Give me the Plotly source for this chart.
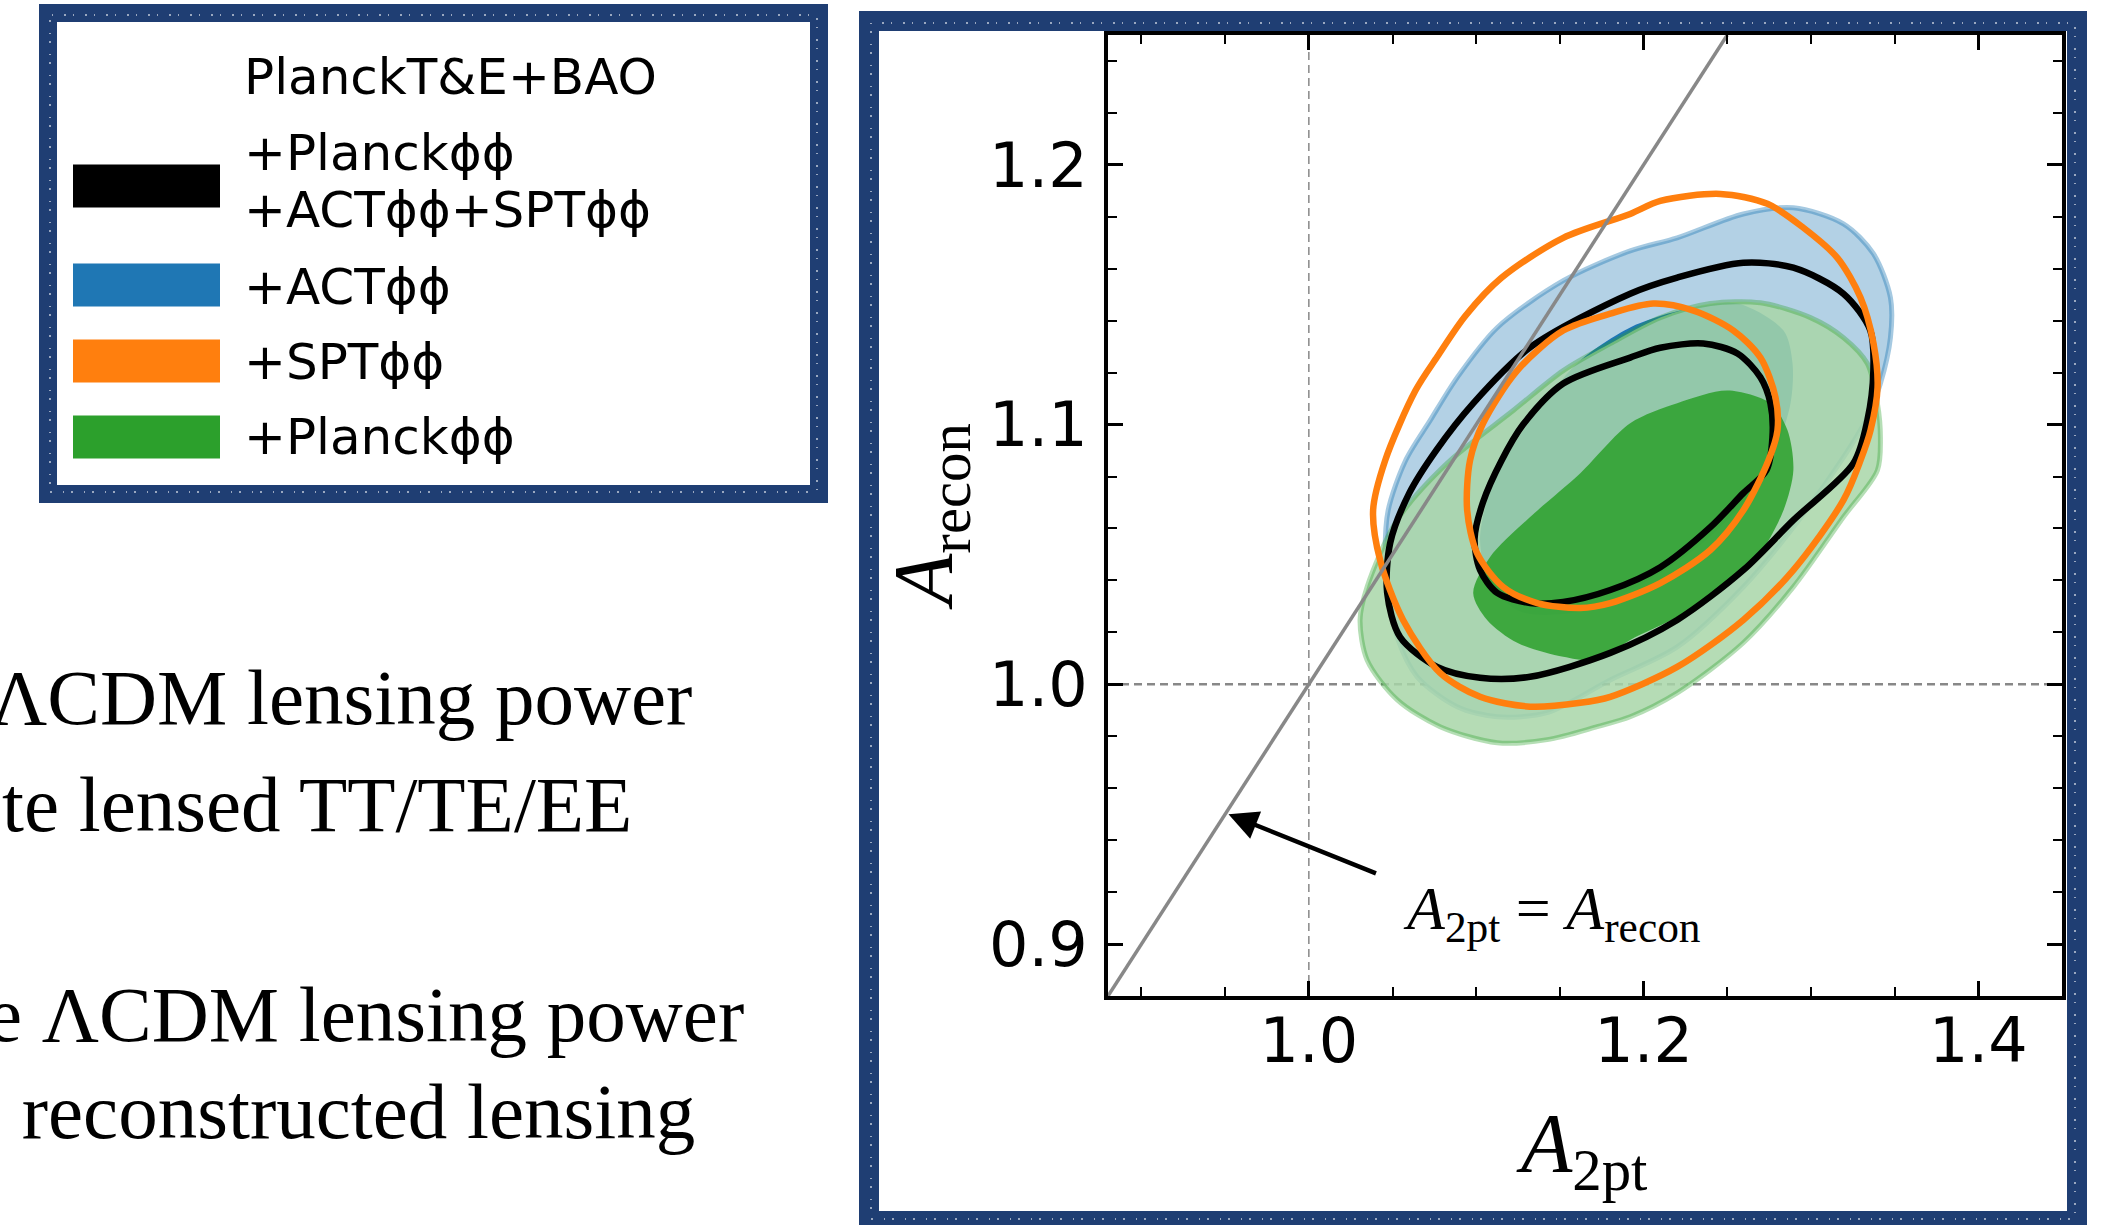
import plotly.graph_objects as go

W, H = 2116, 1225

# ---- axes ----
x_range = [0.88, 1.45]
y_range = [0.88, 1.25]
x_ticks = [1.0, 1.2, 1.4]
y_ticks = [0.9, 1.0, 1.1, 1.2]

# ---- contour boundaries: (A_2pt, A_recon) ----
act_95_x = [1.2895, 1.3194, 1.3373, 1.3475, 1.3475, 1.3415, 1.3337, 1.3194, 1.2895, 1.2596, 1.2201, 1.1801, 1.1424, 1.1125,
            1.0886, 1.0647, 1.0527, 1.0474, 1.0456, 1.0474, 1.0576, 1.0725, 1.0886, 1.1125, 1.1520, 1.1920, 1.2201, 1.2596]
act_95_y = [1.1835, 1.1773, 1.1658, 1.1489, 1.1335, 1.1158, 1.1028, 1.0874, 1.0605, 1.0375, 1.0144, 1.0017, 0.9891, 0.9875,
            0.9914, 1.0029, 1.0182, 1.0352, 1.0505, 1.0670, 1.0859, 1.1016, 1.1181, 1.1373, 1.1554, 1.1669, 1.1719, 1.1811]

act_68_x = [1.2561, 1.2836, 1.2890, 1.2878, 1.2788, 1.2608, 1.2339, 1.1980, 1.1622, 1.1263, 1.1083, 1.1023, 1.1083, 1.1203,
            1.1412, 1.1622, 1.1920, 1.2219]
act_68_y = [1.1466, 1.1362, 1.1235, 1.1082, 1.0901, 1.0709, 1.0536, 1.0382, 1.0280, 1.0280, 1.0390, 1.0555, 1.0747, 1.0901,
            1.1093, 1.1247, 1.1374, 1.1439]

planck_95_x = [1.2698, 1.2997, 1.3194, 1.3337, 1.3397, 1.3415, 1.3397, 1.3194, 1.2895, 1.2596, 1.2201, 1.1920, 1.1723, 1.1424,
               1.1125, 1.0784, 1.0527, 1.0348, 1.0306, 1.0348, 1.0527, 1.0826, 1.1223, 1.1520, 1.1801, 1.2100, 1.2399]
planck_95_y = [1.1469, 1.1412, 1.1335, 1.1235, 1.1082, 1.0951, 1.0824, 1.0644, 1.0375, 1.0160, 0.9967, 0.9875, 0.9837, 0.9787,
               0.9775, 0.9837, 0.9941, 1.0094, 1.0248, 1.0375, 1.0632, 1.0851, 1.1055, 1.1208, 1.1312, 1.1412, 1.1466]

planck_68_x = [1.2502, 1.2758, 1.2860, 1.2895, 1.2836, 1.2698, 1.2501, 1.2201, 1.1920, 1.1723, 1.1520, 1.1245, 1.1065, 1.0982,
               1.1083, 1.1322, 1.1622, 1.1920, 1.2201]
planck_68_y = [1.1131, 1.1082, 1.0978, 1.0824, 1.0670, 1.0505, 1.0375, 1.0259, 1.0171, 1.0094, 1.0106, 1.0160, 1.0248, 1.0352,
               1.0490, 1.0644, 1.0813, 1.1005, 1.1082]

combined_95_x = [1.2596, 1.2895, 1.3194, 1.3355, 1.3373, 1.3337, 1.3254, 1.2895, 1.2596, 1.2201, 1.1801, 1.1322, 1.1023, 1.0766,
                 1.0545, 1.0468, 1.0486, 1.0600, 1.0760, 1.0982, 1.1322, 1.1920, 1.2201]
combined_95_y = [1.1623, 1.1604, 1.1504, 1.1362, 1.1208, 1.1016, 1.0851, 1.0632, 1.0440, 1.0248, 1.0121, 1.0029, 1.0025, 1.0067,
                 1.0182, 1.0352, 1.0544, 1.0736, 1.0900, 1.1082, 1.1297, 1.1504, 1.1566]

combined_68_x = [1.2357, 1.2561, 1.2698, 1.2758, 1.2770, 1.2734, 1.2596, 1.2399, 1.2100, 1.1801, 1.1520, 1.1322, 1.1125, 1.1023,
                 1.0990, 1.1040, 1.1150, 1.1280, 1.1520, 1.1920, 1.2100]
combined_68_y = [1.1312, 1.1274, 1.1182, 1.1082, 1.0951, 1.0824, 1.0736, 1.0605, 1.0451, 1.0363, 1.0317, 1.0313, 1.0352, 1.0440,
                 1.0560, 1.0700, 1.0860, 1.1000, 1.1158, 1.1258, 1.1296]

spt_95_x = [1.2459, 1.2740, 1.2955, 1.3158, 1.3296, 1.3374, 1.3398, 1.3356, 1.3296, 1.3194, 1.2895, 1.2596, 1.2201, 1.1801,
            1.1622, 1.1322, 1.1023, 1.0784, 1.0563, 1.0426, 1.0384, 1.0456, 1.0637, 1.0768, 1.0936, 1.1151, 1.1520, 1.1920, 1.2100]
spt_95_y = [1.1888, 1.1850, 1.1758, 1.1642, 1.1489, 1.1312, 1.1143, 1.0978, 1.0862, 1.0709, 1.0440, 1.0248, 1.0067, 0.9952,
            0.9929, 0.9914, 0.9952, 1.0044, 1.0248, 1.0478, 1.0670, 1.0862, 1.1131, 1.1262, 1.1419, 1.1565, 1.1719, 1.1811, 1.1861]

spt_68_x = [1.2298, 1.2537, 1.2698, 1.2788, 1.2800, 1.2746, 1.2596, 1.2399, 1.2100, 1.1801, 1.1622, 1.1365, 1.1161, 1.1005,
            1.0946, 1.0963, 1.1041, 1.1245, 1.1520, 1.1801, 1.2058]
spt_68_y = [1.1439, 1.1362, 1.1258, 1.1105, 1.0978, 1.0862, 1.0670, 1.0517, 1.0390, 1.0313, 1.0294, 1.0313, 1.0375, 1.0505,
            1.0670, 1.0862, 1.1005, 1.1208, 1.1362, 1.1427, 1.1466]

# one-to-one line and its label
diag_x = [0.88, 1.25]
diag_y = [0.88, 1.25]
arrow_head = (0.952, 0.950)
arrow_tail = (1.041, 0.927)
diag_label_pos = (1.145, 0.912)

# legend entries
legend_title = "PlanckT&E+BAO"
legend_labels = [["+Planckϕϕ", "+ACTϕϕ+SPTϕϕ"], ["+ACTϕϕ"], ["+SPTϕϕ"], ["+Planckϕϕ"]]
legend_colors = ["#000000", "#1f77b4", "#ff7f0e", "#2ca02c"]

# slide text lines beside the figure
slide_lines = ["ΛCDM lensing power", "te lensed TT/TE/EE", "e ΛCDM lensing power", " reconstructed lensing"]

SMOOTH = 0.85


def closed(xs, ys):
    return list(xs) + [xs[0]], list(ys) + [ys[0]]


fig = go.Figure()


def add_region(xs, ys, fill, line_color=None, line_width=0):
    cx, cy = closed(xs, ys)
    fig.add_trace(go.Scatter(
        x=cx, y=cy, mode="lines", fill="toself", fillcolor=fill,
        line=dict(color=line_color or "rgba(0,0,0,0)", width=line_width, shape="spline", smoothing=SMOOTH),
        hoverinfo="skip", showlegend=False))


def add_outline(xs, ys, color, width):
    cx, cy = closed(xs, ys)
    fig.add_trace(go.Scatter(
        x=cx, y=cy, mode="lines",
        line=dict(color=color, width=width, shape="spline", smoothing=SMOOTH),
        hoverinfo="skip", showlegend=False))


# reference lines
fig.add_trace(go.Scatter(x=[1.0, 1.0], y=y_range, mode="lines",
                         line=dict(color="#888888", width=1.5, dash="8px,5px"),
                         hoverinfo="skip", showlegend=False))
fig.add_trace(go.Scatter(x=x_range, y=[1.0, 1.0], mode="lines",
                         line=dict(color="#888888", width=2.5, dash="8px,5px"),
                         hoverinfo="skip", showlegend=False))

# filled constraints
add_region(act_95_x, act_95_y, "rgb(179,209,229)", "rgba(31,119,180,0.40)", 5)
add_region(act_68_x, act_68_y, "rgb(31,119,180)")
add_region(planck_95_x, planck_95_y, "rgba(168,214,168,0.85)", "rgba(44,160,44,0.35)", 5)
add_region(planck_68_x, planck_68_y, "rgba(44,160,44,0.85)")

# unfilled constraints
add_outline(combined_95_x, combined_95_y, "#000000", 6.5)
add_outline(combined_68_x, combined_68_y, "#000000", 6.5)
add_outline(spt_95_x, spt_95_y, "#ff7f0e", 6.5)
add_outline(spt_68_x, spt_68_y, "#ff7f0e", 6.5)

# A_2pt = A_recon
fig.add_trace(go.Scatter(x=diag_x, y=diag_y, mode="lines",
                         line=dict(color="#888888", width=3.5),
                         hoverinfo="skip", showlegend=False))

serif = "Liberation Serif, DejaVu Serif, serif"
sans = "DejaVu Sans, sans-serif"

annotations = [
    dict(x=arrow_head[0], y=arrow_head[1], ax=arrow_tail[0], ay=arrow_tail[1],
         xref="x", yref="y", axref="x", ayref="y", text="", showarrow=True,
         arrowhead=2, arrowsize=1.3, arrowwidth=4.5, arrowcolor="#000000", standoff=0),
    dict(x=diag_label_pos[0], y=diag_label_pos[1], xref="x", yref="y",
         text="<i>A</i><sub>2pt</sub> = <i>A</i><sub>recon</sub>", showarrow=False,
         font=dict(family=serif, size=62, color="#000000"), xanchor="center", yanchor="middle"),
    # axis titles
    dict(x=1581 / W, y=1 - 1150 / H, xref="paper", yref="paper",
         text="<i>A</i><sub>2pt</sub>", showarrow=False,
         font=dict(family=serif, size=84, color="#000000"), xanchor="center", yanchor="middle"),
    dict(x=930 / W, y=1 - 517 / H, xref="paper", yref="paper", textangle=-90,
         text="<i>A</i><sub>recon</sub>", showarrow=False,
         font=dict(family=serif, size=84, color="#000000"), xanchor="center", yanchor="middle"),
    # legend title
    dict(x=242 / W, y=1 - 77 / H, xref="paper", yref="paper", text=legend_title,
         showarrow=False, font=dict(family=sans, size=50, color="#000000"),
         xanchor="left", yanchor="middle"),
]

# legend rows
row_centers = [[153, 210], [287], [362], [437]]
patch_centers = [186, 285, 361, 437]
shapes = []
for labels, ys, pc, col in zip(legend_labels, row_centers, patch_centers, legend_colors):
    for lab, yc in zip(labels, ys):
        annotations.append(dict(x=242 / W, y=1 - yc / H, xref="paper", yref="paper", text=lab,
                                showarrow=False, font=dict(family=sans, size=50, color="#000000"),
                                xanchor="left", yanchor="middle"))
    shapes.append(dict(type="rect", xref="paper", yref="paper",
                       x0=73 / W, x1=220 / W, y0=1 - (pc + 21.5) / H, y1=1 - (pc - 21.5) / H,
                       fillcolor=col, line=dict(width=0), layer="above"))

# slide body text (runs off the left edge of the page)
for txt, x0, base in zip(slide_lines, [-12, 0, -15, 0], [723, 830, 1040, 1137]):
    annotations.append(dict(x=x0 / W, y=1 - (base + 20) / H, xref="paper", yref="paper", text=txt,
                            showarrow=False, font=dict(family=serif, size=79, color="#000000"),
                            xanchor="left", yanchor="bottom"))

# hand-drawn style frames
frame_col = "#1f3e73"
for (x0, y0, x1, y1, lw) in [(48, 13, 819, 494, 18), (869, 21, 2077, 1221, 20)]:
    shapes.append(dict(type="rect", xref="paper", yref="paper",
                       x0=x0 / W, x1=x1 / W, y0=1 - y1 / H, y1=1 - y0 / H,
                       line=dict(color=frame_col, width=lw), fillcolor="rgba(0,0,0,0)", layer="above"))
    shapes.append(dict(type="rect", xref="paper", yref="paper",
                       x0=(x0 + 2) / W, x1=(x1 - 2) / W, y0=1 - (y1 - 2) / H, y1=1 - (y0 + 2) / H,
                       line=dict(color="rgba(255,255,255,0.55)", width=2, dash="2px,11px,1px,7px"),
                       fillcolor="rgba(0,0,0,0)", layer="above"))

axis_common = dict(showgrid=False, zeroline=False, showline=True, linecolor="#000000", linewidth=4,
                   mirror="ticks", ticks="inside", ticklen=15, tickwidth=2.5, tickcolor="#000000",
                   tickfont=dict(family=sans, size=62, color="#000000"))

fig.update_layout(
    width=W, height=H, margin=dict(l=0, r=0, t=0, b=0),
    paper_bgcolor="#ffffff", plot_bgcolor="#ffffff",
    showlegend=False,
    xaxis=dict(range=x_range, domain=[1108 / W, 2062 / W], tickvals=x_ticks,
               ticktext=[f"{v:.1f}" for v in x_ticks],
               minor=dict(dtick=0.05, tick0=1.0, ticks="inside", ticklen=9, tickwidth=2, tickcolor="#000000"),
               **axis_common),
    yaxis=dict(range=y_range, domain=[1 - 996 / H, 1 - 35 / H], tickvals=y_ticks,
               ticktext=[f"{v:.1f}" for v in y_ticks],
               minor=dict(dtick=0.02, tick0=0.9, ticks="inside", ticklen=9, tickwidth=2, tickcolor="#000000"),
               **axis_common),
    annotations=annotations,
    shapes=shapes,
)

# pull the x tick labels in toward the axis line
try:
    fig.update_xaxes(ticklabelstandoff=-12)
    fig.update_yaxes(ticklabelstandoff=4)
except ValueError:
    pass

fig.write_html("out.html")
